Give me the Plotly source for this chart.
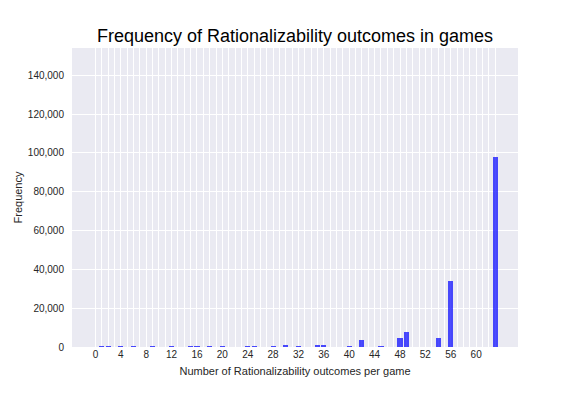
import plotly.graph_objects as go

# Data
outcomes = [1, 2, 4, 6, 9, 12, 15, 16, 18, 20, 24, 25, 28, 30, 32, 35, 36,
            40, 42, 45, 48, 49, 54, 56, 63]
frequency = [450, 450, 450, 450, 450, 450, 450, 450, 450, 450, 450, 450, 450,
             1000, 450, 1000, 1000, 500, 3600, 500, 4700, 7600, 4700, 34000, 98000]

x_grid = list(range(64))
x_labels = [str(v) if v % 4 == 0 else "" for v in x_grid]
y_ticks = [0, 20000, 40000, 60000, 80000, 100000, 120000, 140000]

fig = go.Figure()
fig.add_trace(go.Bar(
    x=outcomes, y=frequency, width=0.8,
    marker=dict(color="rgba(0,0,255,0.7)", line=dict(width=0)),
))

font_family = "Liberation Sans, Arial, sans-serif"
text_color = "#262626"

fig.update_layout(
    width=576, height=396,
    margin=dict(l=72, r=58, t=48, b=49),
    paper_bgcolor="white",
    plot_bgcolor="#EAEAF2",
    showlegend=False,
    font=dict(family=font_family, color=text_color, size=10),
    title=dict(text="Frequency of Rationalizability outcomes in games",
               x=0.5, xanchor="center", xref="paper", y=0.91, yanchor="middle",
               font=dict(size=18, color="black", family=font_family)),
    bargap=0,
)
fig.update_xaxes(
    range=[-3.7, 66.6],
    tickmode="array", tickvals=x_grid, ticktext=x_labels,
    showgrid=True, gridcolor="white", gridwidth=1,
    zeroline=False, showline=False,
    ticks="", ticklen=0,
    tickfont=dict(size=10, color=text_color),
    title=dict(text="Number of Rationalizability outcomes per game",
               font=dict(size=11, color=text_color), standoff=8),
)
fig.update_yaxes(
    range=[0, 154000],
    tickmode="array", tickvals=y_ticks,
    tickformat=",d",
    showgrid=True, gridcolor="white", gridwidth=1,
    zeroline=False, showline=False,
    ticks="outside", ticklen=5, tickcolor="rgba(0,0,0,0)",
    tickfont=dict(size=10, color=text_color),
    title=dict(text="Frequency", font=dict(size=11, color=text_color), standoff=2),
)

fig.write_html("out.html",
               config={"displayModeBar": False},
               post_script="document.body.style.margin='0';document.body.style.overflow='hidden';")
